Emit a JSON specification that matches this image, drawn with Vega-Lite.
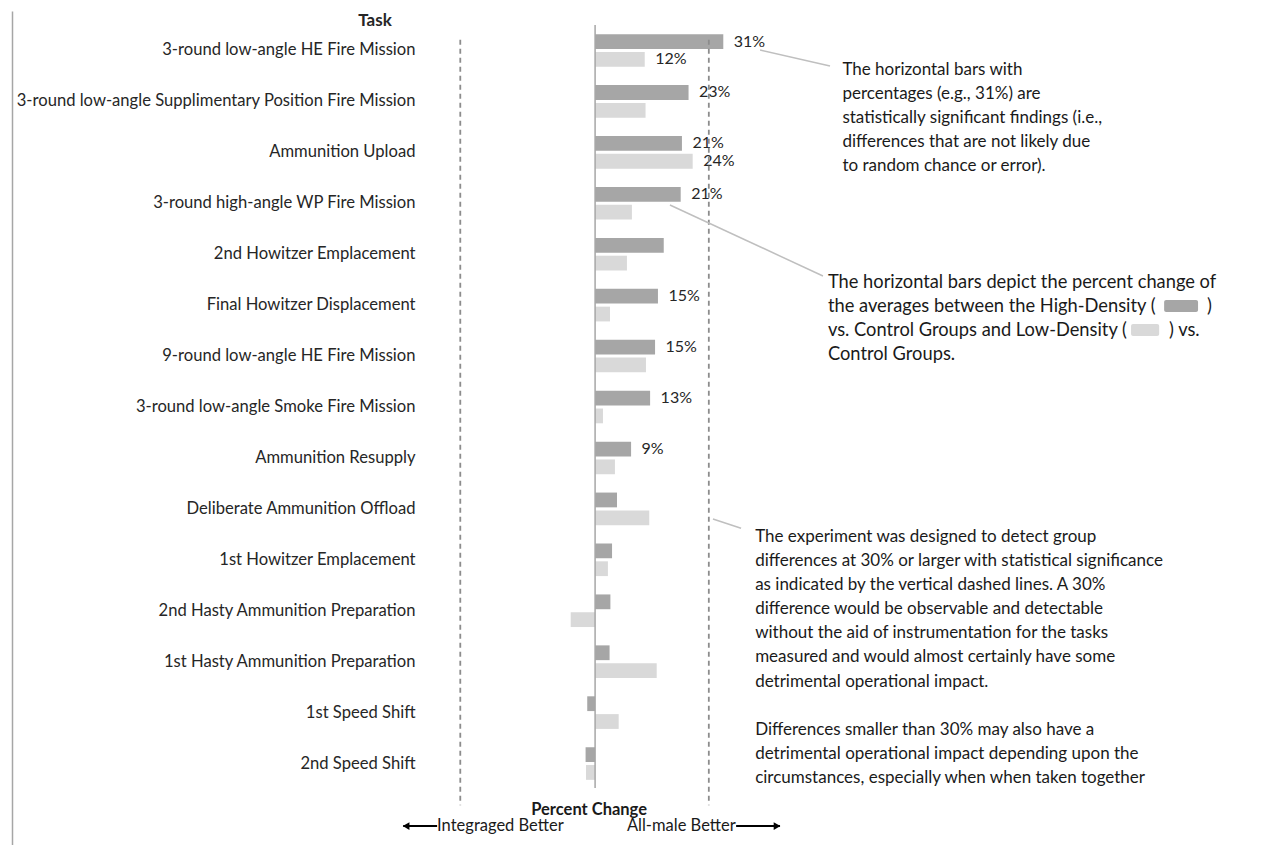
{
"$schema": "https://vega.github.io/schema/vega-lite/v6.json",
"width": 1258,
"height": 834,
"autosize": "none",
"padding": {"left": 12, "top": 11, "right": 0, "bottom": 0},
"background": "white",
"config": {"view": {"stroke": null}, "font": "Lato"},
"datasets": {
"bars": [
{"task":"3-round low-angle HE Fire Mission","group":"High-Density","pct":31.0,"label":"31%"},
{"task":"3-round low-angle HE Fire Mission","group":"Low-Density","pct":12.0,"label":"12%"},
{"task":"3-round low-angle Supplimentary Position Fire Mission","group":"High-Density","pct":22.6,"label":"23%"},
{"task":"3-round low-angle Supplimentary Position Fire Mission","group":"Low-Density","pct":12.2,"label":""},
{"task":"Ammunition Upload","group":"High-Density","pct":21.0,"label":"21%"},
{"task":"Ammunition Upload","group":"Low-Density","pct":23.6,"label":"24%"},
{"task":"3-round high-angle WP Fire Mission","group":"High-Density","pct":20.7,"label":"21%"},
{"task":"3-round high-angle WP Fire Mission","group":"Low-Density","pct":8.9,"label":""},
{"task":"2nd Howitzer Emplacement","group":"High-Density","pct":16.6,"label":""},
{"task":"2nd Howitzer Emplacement","group":"Low-Density","pct":7.7,"label":""},
{"task":"Final Howitzer Displacement","group":"High-Density","pct":15.2,"label":"15%"},
{"task":"Final Howitzer Displacement","group":"Low-Density","pct":3.6,"label":""},
{"task":"9-round low-angle HE Fire Mission","group":"High-Density","pct":14.5,"label":"15%"},
{"task":"9-round low-angle HE Fire Mission","group":"Low-Density","pct":12.3,"label":""},
{"task":"3-round low-angle Smoke Fire Mission","group":"High-Density","pct":13.3,"label":"13%"},
{"task":"3-round low-angle Smoke Fire Mission","group":"Low-Density","pct":1.9,"label":""},
{"task":"Ammunition Resupply","group":"High-Density","pct":8.7,"label":"9%"},
{"task":"Ammunition Resupply","group":"Low-Density","pct":4.8,"label":""},
{"task":"Deliberate Ammunition Offload","group":"High-Density","pct":5.3,"label":""},
{"task":"Deliberate Ammunition Offload","group":"Low-Density","pct":13.1,"label":""},
{"task":"1st Howitzer Emplacement","group":"High-Density","pct":4.1,"label":""},
{"task":"1st Howitzer Emplacement","group":"Low-Density","pct":3.1,"label":""},
{"task":"2nd Hasty Ammunition Preparation","group":"High-Density","pct":3.7,"label":""},
{"task":"2nd Hasty Ammunition Preparation","group":"Low-Density","pct":-5.9,"label":""},
{"task":"1st Hasty Ammunition Preparation","group":"High-Density","pct":3.5,"label":""},
{"task":"1st Hasty Ammunition Preparation","group":"Low-Density","pct":14.9,"label":""},
{"task":"1st Speed Shift","group":"High-Density","pct":-1.9,"label":""},
{"task":"1st Speed Shift","group":"Low-Density","pct":5.7,"label":""},
{"task":"2nd Speed Shift","group":"High-Density","pct":-2.3,"label":""},
{"task":"2nd Speed Shift","group":"Low-Density","pct":-2.2,"label":""}
],
"guides": [
{"kind":"zero","x":0,"r1":0.5,"r2":15.48},
{"kind":"threshold","x":-32.6,"r1":0.79,"r2":15.82},
{"kind":"threshold","x":27.5,"r1":0.79,"r2":15.82}
],
"leaders": [
{"x":39.9,"x2":56.8,"r":0.991,"r2":1.305},
{"x":18.1,"x2":55.1,"r":4.034,"r2":5.428},
{"x":28.5,"x2":35.3,"r":10.2,"r2":10.38}
],
"notes": [
{"text":"The horizontal bars with\npercentages (e.g., 31%) are\nstatistically significant findings (i.e.,\ndifferences that are not likely due\nto random chance or error).","x":59.8,"r":1.374},
{"text":"The experiment was designed to detect group\ndifferences at 30% or larger with statistical significance\nas indicated by the vertical dashed lines. A 30%\ndifference would be observable and detectable\nwithout the aid of instrumentation for the tasks\nmeasured and would almost certainly have some\ndetrimental operational impact.","x":38.7,"r":10.546},
{"text":"Differences smaller than 30% may also have a\ndetrimental operational impact depending upon the\ncircumstances, especially when when taken together","x":38.7,"r":14.34}
],
"legendnote": [
{"text":"The horizontal bars depict the percent change of\nthe averages between the High-Density (\u00a0\u00a0\u00a0\u00a0\u00a0\u00a0\u00a0\u00a0\u00a0\u00a0\u00a0)\nvs. Control Groups and Low-Density (\u00a0\u00a0\u00a0\u00a0\u00a0\u00a0\u00a0\u00a0\u00a0) vs.\nControl Groups.","x":56.3,"r":5.566}
],
"swatches": [
{"group":"High-Density","x":137.6,"x2":145.8,"r":5.900,"r2":6.135},
{"group":"Low-Density","x":129.6,"x2":136.4,"r":6.371,"r2":6.606}
],
"captions": [
{"text":"Integraged Better","x":-38.2,"r":16.23},
{"text":"All-male Better","x":7.7,"r":16.23}
],
"arrows": [
{"dir":"left","x":-46.4,"x2":-38.2,"tip":-45.7,"r":16.23},
{"dir":"right","x":34.1,"x2":44.7,"tip":44.0,"r":16.23}
]
},
"layer": [
{
"data": {"name": "bars"},
"mark": {"type": "bar"},
"encoding": {
"y": {"field":"task","type":"nominal","sort":null,
"scale":{"range":[14,778],"paddingInner":0.36,"paddingOuter":0.18},
"axis":{"orient":"left","offset":-403,"domain":false,"ticks":false,"grid":false,"labelPadding":0,"labelFont":"Lato","labelFontSize":16.6,"labelColor":"#262626","labelLimit":600,"title":"Task","titleAngle":0,"titleFont":"Lato","titleFontSize":17,"titleFontWeight":"bold","titleColor":"#262626","titleAlign":"center","titleBaseline":"middle","titleX":-40.5,"titleY":9.7}},
"yOffset": {"field":"group","type":"nominal","sort":["High-Density","Low-Density"],"scale":{"paddingInner":0.17,"paddingOuter":0}},
"x": {"field":"pct","type":"quantitative","scale":{"domain":[-141.0,163.2],"nice":false,"zero":false},
"axis":{"orient":"top","title":null,"labels":false,"ticks":false,"grid":false,"domain":true,"domainColor":"#a6a6a6","domainWidth":1.5}},
"color": {"field":"group","type":"nominal","scale":{"domain":["High-Density","Low-Density"],"range":["#a6a6a6","#d9d9d9"]},"legend":null}
}
},
{
"data": {"name": "bars"},
"mark": {"type":"text","align":"left","baseline":"middle","dx":10.5,"fontSize":16,"color":"#262626","font":"Lato"},
"encoding": {
"y": {"field":"task","type":"nominal","sort":null,"scale":{"range":[14,778],"paddingInner":0.36,"paddingOuter":0.18},"axis":null},
"yOffset": {"field":"group","type":"nominal","sort":["High-Density","Low-Density"],"scale":{"paddingInner":0.17,"paddingOuter":0}},
"x": {"field":"pct","type":"quantitative","scale":{"domain":[-141.0,163.2],"nice":false,"zero":false},"axis":null},
"text": {"field":"label"}
}
},
{
"data": {"name": "guides"},
"transform": [{"filter": "datum.kind == 'zero'"}],
"mark": {"type":"rule","color":"#a6a6a6","strokeWidth":1.5},
"encoding": {
"x": {"field":"x","type":"quantitative","scale":{"domain":[-141.0,163.2],"nice":false,"zero":false},"axis":null},
"y": {"field":"r1","type":"quantitative","scale":{"domain":[0.2251,16.6007],"nice":false,"zero":false,"reverse":true},
"axis":{"orient":"left","title":null,"labels":false,"ticks":false,"grid":false,"domain":true,"domainColor":"#a6a6a6","domainWidth":1.5}},
"y2": {"field":"r2"}
}
},
{
"data": {"name": "guides"},
"transform": [{"filter": "datum.kind == 'threshold'"}],
"mark": {"type":"rule","color":"#8c8c8c","strokeWidth":1.8,"strokeDash":[5,4]},
"encoding": {
"x": {"field":"x","type":"quantitative","scale":{"domain":[-141.0,163.2],"nice":false,"zero":false},"axis":null},
"y": {"field":"r1","type":"quantitative","scale":{"domain":[0.2251,16.6007],"nice":false,"zero":false,"reverse":true},"axis":null},
"y2": {"field":"r2"}
}
},
{
"data": {"name": "leaders"},
"mark": {"type":"rule","color":"#bfbfbf","strokeWidth":1.5},
"encoding": {
"x": {"field":"x","type":"quantitative","scale":{"domain":[-141.0,163.2],"nice":false,"zero":false},"axis":null},
"x2": {"field":"x2"},
"y": {"field":"r","type":"quantitative","scale":{"domain":[0.2251,16.6007],"nice":false,"zero":false,"reverse":true},"axis":null},
"y2": {"field":"r2"}
}
},
{
"data": {"name": "notes"},
"mark": {"type":"text","align":"left","baseline":"middle","fontSize":17,"lineHeight":24.15,"lineBreak":"\n","color":"#1a1a1a","font":"Lato"},
"encoding": {
"x": {"field":"x","type":"quantitative","scale":{"domain":[-141.0,163.2],"nice":false,"zero":false},"axis":null},
"y": {"field":"r","type":"quantitative","scale":{"domain":[0.2251,16.6007],"nice":false,"zero":false,"reverse":true},"axis":null},
"text": {"field":"text"}
}
},
{
"data": {"name": "legendnote"},
"mark": {"type":"text","align":"left","baseline":"middle","fontSize":18.3,"lineHeight":24,"lineBreak":"\n","color":"#1a1a1a","font":"Lato"},
"encoding": {
"x": {"field":"x","type":"quantitative","scale":{"domain":[-141.0,163.2],"nice":false,"zero":false},"axis":null},
"y": {"field":"r","type":"quantitative","scale":{"domain":[0.2251,16.6007],"nice":false,"zero":false,"reverse":true},"axis":null},
"text": {"field":"text"}
}
},
{
"data": {"name": "swatches"},
"mark": {"type":"rect","cornerRadius":2},
"encoding": {
"x": {"field":"x","type":"quantitative","scale":{"domain":[-141.0,163.2],"nice":false,"zero":false},"axis":null},
"x2": {"field":"x2"},
"y": {"field":"r","type":"quantitative","scale":{"domain":[0.2251,16.6007],"nice":false,"zero":false,"reverse":true},"axis":null},
"y2": {"field":"r2"},
"color": {"field":"group","type":"nominal","scale":{"domain":["High-Density","Low-Density"],"range":["#a6a6a6","#d9d9d9"]},"legend":null}
}
},
{
"data": {"values": [{"text":"Percent Change","x":-1.45,"r":15.92}]},
"mark": {"type":"text","align":"center","baseline":"middle","fontSize":16.5,"fontWeight":"bold","color":"#1a1a1a","font":"Lato"},
"encoding": {
"x": {"field":"x","type":"quantitative","scale":{"domain":[-141.0,163.2],"nice":false,"zero":false},"axis":null},
"y": {"field":"r","type":"quantitative","scale":{"domain":[0.2251,16.6007],"nice":false,"zero":false,"reverse":true},"axis":null},
"text": {"field":"text"}
}
},
{
"data": {"name": "captions"},
"mark": {"type":"text","align":"left","baseline":"middle","fontSize":16.5,"color":"#1a1a1a","font":"Lato"},
"encoding": {
"x": {"field":"x","type":"quantitative","scale":{"domain":[-141.0,163.2],"nice":false,"zero":false},"axis":null},
"y": {"field":"r","type":"quantitative","scale":{"domain":[0.2251,16.6007],"nice":false,"zero":false,"reverse":true},"axis":null},
"text": {"field":"text"}
}
},
{
"data": {"name": "arrows"},
"mark": {"type":"rule","color":"#000000","strokeWidth":2},
"encoding": {
"x": {"field":"x","type":"quantitative","scale":{"domain":[-141.0,163.2],"nice":false,"zero":false},"axis":null},
"x2": {"field":"x2"},
"y": {"field":"r","type":"quantitative","scale":{"domain":[0.2251,16.6007],"nice":false,"zero":false,"reverse":true},"axis":null}
}
},
{
"data": {"name": "arrows"},
"mark": {"type":"point","filled":true,"opacity":1,"size":60,"color":"#000000"},
"encoding": {
"x": {"field":"tip","type":"quantitative","scale":{"domain":[-141.0,163.2],"nice":false,"zero":false},"axis":null},
"y": {"field":"r","type":"quantitative","scale":{"domain":[0.2251,16.6007],"nice":false,"zero":false,"reverse":true},"axis":null},
"shape": {"field":"dir","type":"nominal","scale":{"domain":["left","right"],"range":["triangle-left","triangle-right"]},"legend":null}
}
}
],
"resolve": {"scale": {"y": "independent"}}
}
